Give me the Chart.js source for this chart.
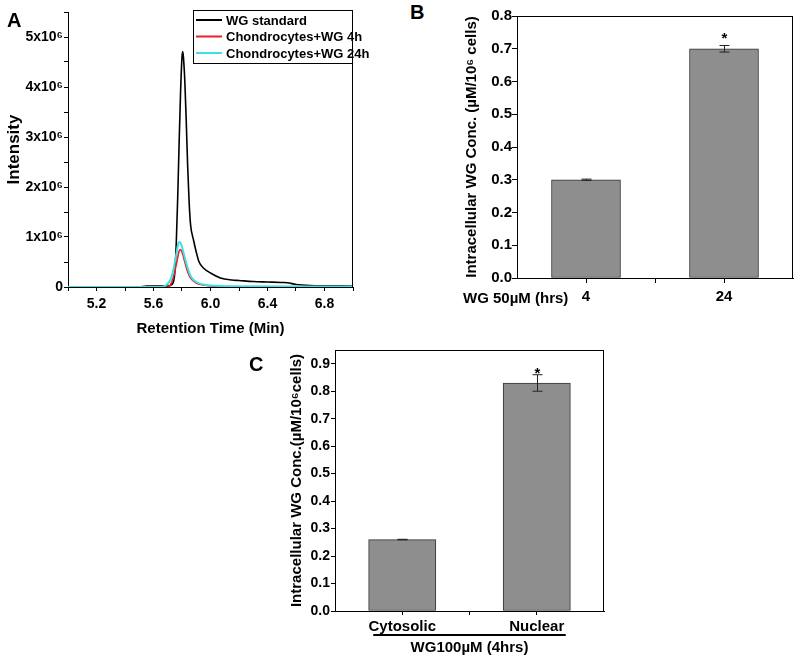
<!DOCTYPE html>
<html>
<head>
<meta charset="utf-8">
<script src="https://cdn.jsdelivr.net/npm/chart.js@4.4.0/dist/chart.umd.min.js"></script>
<style>
body { margin: 0; background: #fff; }
#wrap { position: relative; width: 800px; height: 662px; font-family: 'Liberation Sans', Arial, sans-serif; font-weight: bold; color: #000; }
canvas { position: absolute; }
.lbl { position: absolute; white-space: nowrap; line-height: 1; }
</style>
</head>
<body>
<div id="wrap">
  <canvas id="chartA" width="380" height="345" style="left:0;top:0"></canvas>
  <canvas id="chartB" width="360" height="320" style="left:440px;top:0"></canvas>
  <canvas id="chartC" width="360" height="332" style="left:260px;top:330px"></canvas>
  <div class="lbl" style="left:7px;top:10px;font-size:20px">A</div>
  <div class="lbl" style="left:410px;top:2px;font-size:20px">B</div>
  <div class="lbl" style="left:249px;top:354px;font-size:20px">C</div>
  <div class="lbl" style="left:463px;top:290px;font-size:15px">WG 50µM (hrs)</div>
</div>
<script>
// A: chromatograms, retention time (min) vs intensity (x10^6)
var timeStd = [5.0, 5.5, 5.55, 5.7, 5.73, 5.75, 5.76, 5.77, 5.78, 5.79, 5.80, 5.805, 5.81, 5.82, 5.83, 5.84, 5.85, 5.86, 5.88, 5.90, 5.92, 5.95, 6.0, 6.07, 6.15, 6.2, 6.3, 6.4, 6.5, 6.54, 6.6, 6.7, 7.0];
var intStd = [0, 0, 0.02, 0.02, 0.05, 0.3, 0.9, 1.8, 2.9, 3.9, 4.6, 4.71, 4.6, 4.1, 3.3, 2.4, 1.7, 1.25, 0.95, 0.7, 0.5, 0.38, 0.28, 0.18, 0.14, 0.13, 0.11, 0.1, 0.09, 0.085, 0.05, 0.03, 0.02];
var time4h = [5.0, 5.70, 5.72, 5.74, 5.76, 5.78, 5.79, 5.80, 5.82, 5.84, 5.86, 5.90, 5.95, 6.0, 6.2, 7.0];
var int4h = [0, 0, 0.05, 0.2, 0.45, 0.72, 0.75, 0.7, 0.5, 0.3, 0.18, 0.08, 0.04, 0.02, 0.005, 0];
var time24h = [5.0, 5.65, 5.68, 5.72, 5.74, 5.76, 5.775, 5.785, 5.80, 5.82, 5.84, 5.86, 5.90, 5.95, 6.0, 6.2, 6.6, 7.0];
var int24h = [0, 0, 0.02, 0.15, 0.35, 0.65, 0.88, 0.9, 0.8, 0.58, 0.38, 0.22, 0.1, 0.05, 0.03, 0.015, 0.01, 0.01];

// B: intracellular conc. after 4h / 24h
var hoursB = ['4', '24'];
var concB = [0.30, 0.70];
var errB = [0.002, 0.01];
var sigB = [false, true];

// C: cytosolic vs nuclear
var fractionC = ['Cytosolic', 'Nuclear'];
var concC = [0.26, 0.83];
var errC = [0.001, 0.03];
var sigC = [false, true];

var boldFont = "'Liberation Sans', Arial, sans-serif";
var narrowFont = "'Liberation Sans Narrow', 'Liberation Sans', Arial, sans-serif";

Chart.defaults.font.family = boldFont;
Chart.defaults.font.weight = 'bold';
Chart.defaults.color = '#000';

function pts(xs, ys) {
  return xs.map(function (x, i) { return { x: x, y: ys[i] }; });
}

function frame(sides) {
  return {
    id: 'frame',
    afterDraw: function (chart) {
      var a = chart.chartArea, ctx = chart.ctx;
      ctx.save();
      ctx.strokeStyle = '#000';
      ctx.lineWidth = 1;
      ctx.beginPath();
      if (sides.indexOf('top') >= 0) { ctx.moveTo(a.left, a.top + 0.5); ctx.lineTo(a.right, a.top + 0.5); }
      if (sides.indexOf('right') >= 0) { ctx.moveTo(a.right - 0.5, a.top); ctx.lineTo(a.right - 0.5, a.bottom); }
      ctx.stroke();
      ctx.restore();
    }
  };
}

var boxLegend = {
  id: 'boxLegend',
  afterDraw: function (chart) {
    var a = chart.chartArea, ctx = chart.ctx;
    var w = 160, h = 53, x0 = a.right - w, y0 = a.top - 2;
    ctx.save();
    ctx.fillStyle = '#fff';
    ctx.fillRect(x0, y0, w, h);
    ctx.strokeStyle = '#000';
    ctx.lineWidth = 1;
    ctx.strokeRect(x0 + 0.5, y0 + 0.5, w - 1, h);
    chart.data.datasets.forEach(function (ds, i) {
      var y = y0 + 10 + i * 16.5;
      ctx.strokeStyle = ds.borderColor;
      ctx.lineWidth = 2;
      ctx.beginPath();
      ctx.moveTo(x0 + 3, y);
      ctx.lineTo(x0 + 29, y);
      ctx.stroke();
      ctx.fillStyle = '#000';
      ctx.font = 'bold 13px ' + narrowFont;
      ctx.textBaseline = 'middle';
      ctx.fillText(ds.label, x0 + 33, y + 1);
    });
    ctx.restore();
  }
};

function errorBars(err, sig, starGap) {
  return {
    id: 'errorBars',
    afterDatasetsDraw: function (chart) {
      var ctx = chart.ctx, ys = chart.scales.y;
      var meta = chart.getDatasetMeta(0);
      var vals = chart.data.datasets[0].data;
      ctx.save();
      ctx.strokeStyle = '#222';
      ctx.lineWidth = 1;
      meta.data.forEach(function (bar, i) {
        var v = vals[i].y, e = err[i];
        var yt = ys.getPixelForValue(v + e), yb = ys.getPixelForValue(v - e);
        var x = Math.round(bar.x) + 0.5;
        ctx.beginPath();
        ctx.moveTo(x, yt); ctx.lineTo(x, yb);
        ctx.moveTo(x - 5, yt); ctx.lineTo(x + 5, yt);
        ctx.moveTo(x - 5, yb); ctx.lineTo(x + 5, yb);
        ctx.stroke();
        if (sig[i]) {
          ctx.fillStyle = '#000';
          ctx.font = 'bold 15px ' + boldFont;
          ctx.textAlign = 'center';
          ctx.textBaseline = 'alphabetic';
          ctx.fillText('*', x, yt + starGap);
        }
      });
      ctx.restore();
    }
  };
}

function underline(labelsGap) {
  return {
    id: 'underline',
    afterDraw: function (chart) {
      var xs = chart.scales.x, ctx = chart.ctx;
      var x1 = xs.getPixelForValue(1) - labelsGap, x2 = xs.getPixelForValue(2) + labelsGap;
      ctx.save();
      ctx.strokeStyle = '#000';
      ctx.lineWidth = 2;
      ctx.beginPath();
      ctx.moveTo(x1, xs.bottom - 27);
      ctx.lineTo(x2, xs.bottom - 27);
      ctx.stroke();
      ctx.restore();
    }
  };
}

function stepTicks(from, to, step) {
  var out = [];
  var n = Math.round((to - from) / step);
  for (var i = 0; i <= n; i++) out.push({ value: +(from + i * step).toFixed(4) });
  return out;
}

// ---------- A ----------
new Chart(document.getElementById('chartA').getContext('2d'), {
  type: 'line',
  data: {
    datasets: [{
      label: 'WG standard',
      data: pts(timeStd, intStd),
      borderColor: '#000000',
      borderWidth: 1.6,
      order: 2
    }, {
      label: 'Chondrocytes+WG 4h',
      data: pts(time4h, int4h),
      borderColor: '#e8202a',
      borderWidth: 1.6,
      order: 1
    }, {
      label: 'Chondrocytes+WG 24h',
      data: pts(time24h, int24h),
      borderColor: '#3ee0e4',
      borderWidth: 2,
      order: 0
    }]
  },
  options: {
    responsive: false,
    animation: false,
    events: [],
    layout: { padding: { left: 0, top: 12, right: 27, bottom: 0 } },
    elements: { point: { radius: 0 }, line: { cubicInterpolationMode: 'monotone' } },
    plugins: { legend: { display: false }, tooltip: { enabled: false } },
    scales: {
      x: {
        type: 'linear', min: 5.0, max: 7.0,
        afterBuildTicks: function (s) { s.ticks = stepTicks(5.0, 7.0, 0.2); },
        afterFit: function (s) { s.height = 58; },
        grid: { drawOnChartArea: false, tickLength: 4, color: '#000' },
        border: { color: '#000' },
        ticks: {
          padding: 5, maxRotation: 0, autoSkip: false,
          font: { size: 14 },
          callback: function (v) { var k = Math.round(v * 10); return k % 4 === 0 ? (k / 10).toFixed(1) : ''; }
        },
        title: { display: true, text: 'Retention Time (Min)', font: { size: 15, family: narrowFont }, padding: { top: 0, bottom: 7 } }
      },
      y: {
        min: 0, max: 5.5,
        afterBuildTicks: function (s) { s.ticks = stepTicks(0, 5.5, 0.5); },
        afterFit: function (s) { s.width = 68; },
        grid: { drawOnChartArea: false, tickLength: 4, color: '#000' },
        border: { color: '#000' },
        ticks: {
          padding: 1, font: { size: 14 },
          callback: function (v) { if (v % 1 !== 0) return ''; return v === 0 ? '0' : v + 'x10⁶'; }
        },
        title: { display: true, text: 'Intensity', font: { size: 17 }, padding: { top: 4, bottom: 0 } }
      }
    }
  },
  plugins: [frame(['right']), boxLegend]
});

// ---------- B ----------
new Chart(document.getElementById('chartB').getContext('2d'), {
  type: 'bar',
  data: {
    datasets: [{
      data: pts([1, 2], concB),
      backgroundColor: '#8e8e8e',
      borderColor: '#333',
      borderWidth: 1,
      borderSkipped: false,
      categoryPercentage: 1,
      barPercentage: 1
    }]
  },
  options: {
    responsive: false,
    animation: false,
    events: [],
    layout: { padding: { left: 0, top: 16, right: 7, bottom: 0 } },
    plugins: { legend: { display: false }, tooltip: { enabled: false } },
    scales: {
      x: {
        type: 'linear', min: 0.5, max: 2.5, offset: false,
        afterBuildTicks: function (s) { s.ticks = stepTicks(1, 2, 0.5); },
        afterFit: function (s) { s.height = 42; },
        grid: { drawOnChartArea: false, tickLength: 5, color: '#000', offset: false },
        border: { color: '#000' },
        ticks: {
          padding: 5, maxRotation: 0, autoSkip: false, font: { size: 15 },
          callback: function (v) { return Number.isInteger(v) ? hoursB[v - 1] : ''; }
        }
      },
      y: {
        min: 0, max: 0.8,
        afterBuildTicks: function (s) { s.ticks = stepTicks(0, 0.8, 0.05); },
        afterFit: function (s) { s.width = 77; },
        grid: { drawOnChartArea: false, tickLength: 5, color: '#000' },
        border: { color: '#000' },
        ticks: {
          padding: 0, font: { size: 15 },
          callback: function (v) { var k = Math.round(v * 100); return k % 10 === 0 ? (k / 100).toFixed(1) : ''; }
        },
        title: { display: true, text: 'Intracellular WG Conc. (µM/10⁶ cells)', font: { size: 15 }, padding: { top: 23, bottom: 0 } }
      }
    }
  },
  plugins: [frame(['top', 'right']), errorBars(errB, sigB, -2)]
});

// ---------- C ----------
new Chart(document.getElementById('chartC').getContext('2d'), {
  type: 'bar',
  data: {
    datasets: [{
      data: pts([1, 2], concC),
      backgroundColor: '#8e8e8e',
      borderColor: '#333',
      borderWidth: 1,
      borderSkipped: false,
      categoryPercentage: 1,
      barPercentage: 1
    }]
  },
  options: {
    responsive: false,
    animation: false,
    events: [],
    layout: { padding: { left: 0, top: 20, right: 16, bottom: 0 } },
    plugins: { legend: { display: false }, tooltip: { enabled: false } },
    scales: {
      x: {
        type: 'linear', min: 0.5, max: 2.5, offset: false,
        afterBuildTicks: function (s) { s.ticks = stepTicks(1, 2, 0.5); },
        afterFit: function (s) { s.height = 51; },
        grid: { drawOnChartArea: false, tickLength: 4, color: '#000', offset: false },
        border: { color: '#000' },
        ticks: {
          padding: 3, maxRotation: 0, autoSkip: false, font: { size: 15, family: narrowFont },
          callback: function (v) { return Number.isInteger(v) ? fractionC[v - 1] : ''; }
        },
        title: { display: true, text: 'WG100µM (4hrs)', font: { size: 15 }, padding: { top: 0, bottom: 5 } }
      },
      y: {
        min: 0, max: 0.95,
        afterBuildTicks: function (s) { s.ticks = stepTicks(0, 0.9, 0.05); },
        afterFit: function (s) { s.width = 75; },
        grid: { drawOnChartArea: false, tickLength: 4, color: '#000' },
        border: { color: '#000' },
        ticks: {
          padding: 1, font: { size: 14 },
          callback: function (v) { var k = Math.round(v * 100); return k % 10 === 0 ? (k / 100).toFixed(1) : ''; }
        },
        title: { display: true, text: 'Intracellular WG Conc.(µM/10⁶cells)', font: { size: 15 }, padding: { top: 28, bottom: 0 } }
      }
    }
  },
  plugins: [frame(['top', 'right']), errorBars(errC, sigC, 3), underline(29)]
});
</script>
</body>
</html>
